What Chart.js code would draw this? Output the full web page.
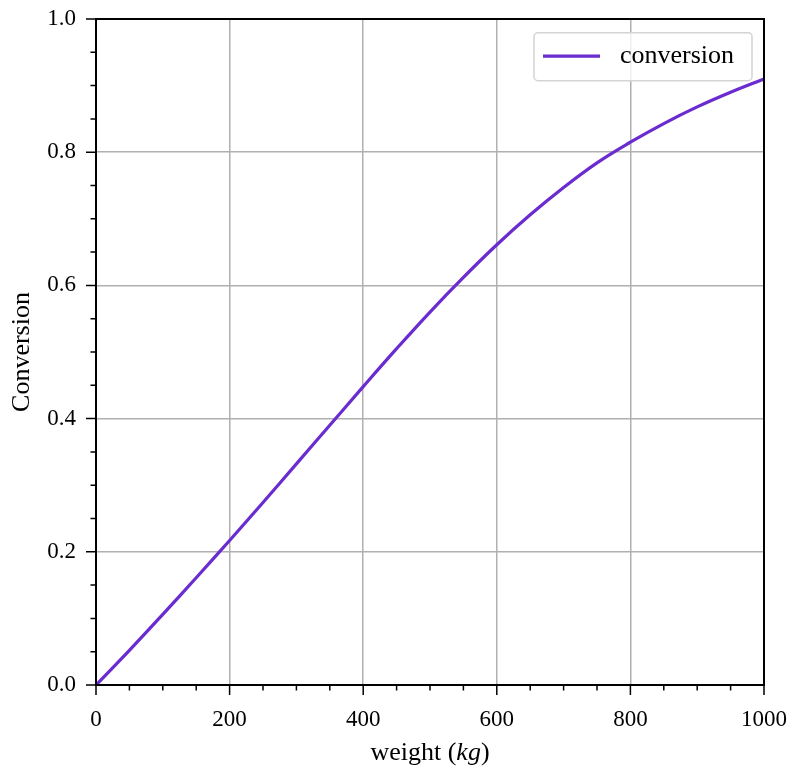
<!DOCTYPE html>
<html>
<head>
<meta charset="utf-8">
<script src="https://cdn.jsdelivr.net/npm/chart.js@4/dist/chart.umd.min.js"></script>
<style>
  html, body { margin: 0; padding: 0; background: #ffffff; }
  #wrap { width: 795px; height: 772px; position: relative; }
</style>
</head>
<body>
<div id="wrap"><canvas id="c" width="795" height="772"></canvas></div>
<script>
// ---- data ----
const weights = [0, 50, 100, 150, 200, 250, 300, 350, 400, 450, 500, 550, 600, 650, 700, 750, 800, 850, 900, 950, 1000];
const conversion = [0, 0.052, 0.106, 0.161, 0.217, 0.274, 0.332, 0.390, 0.448, 0.505, 0.560, 0.612, 0.661, 0.706, 0.747, 0.784, 0.815, 0.843, 0.868, 0.890, 0.910];
const xTickLabels = [0, 200, 400, 600, 800, 1000];
const yTickLabels = ['0.0', '0.2', '0.4', '0.6', '0.8', '1.0'];
const seriesName = 'conversion';
const xTitleParts = [['weight (', 'normal'], ['kg', 'italic'], [')', 'normal']];
const yTitle = 'Conversion';

const FONT = "'Liberation Serif', 'DejaVu Serif', serif";
const TEXT_SIZE = 26;
const TICK_SIZE = 23;
const LINE_COLOR = '#6a2bd0';

const framePlugin = {
  id: 'frameTicks',
  afterDraw(chart) {
    const ctx = chart.ctx;
    const a = chart.chartArea;
    const xs = chart.scales.x, ys = chart.scales.y;
    ctx.save();
    // ticks
    ctx.strokeStyle = '#000';
    ctx.lineWidth = 1.5;
    ctx.beginPath();
    for (let v = 0; v <= 1000; v += 50) {
      const px = xs.getPixelForValue(v);
      const len = (v % 200 === 0) ? 10 : 5.5;
      ctx.moveTo(px, a.bottom);
      ctx.lineTo(px, a.bottom + len);
    }
    for (let i = 0; i <= 20; i++) {
      const v = i * 0.05;
      const py = ys.getPixelForValue(v);
      const len = (i % 4 === 0) ? 10 : 5.5;
      ctx.moveTo(a.left, py);
      ctx.lineTo(a.left - len, py);
    }
    ctx.stroke();
    // frame
    ctx.lineWidth = 2;
    ctx.strokeRect(a.left, a.top, a.right - a.left, a.bottom - a.top);

    // legend
    const bx = a.right - 230, by = a.top + 13.7, bw = 218, bh = 48;
    ctx.beginPath();
    const r = 4;
    ctx.moveTo(bx + r, by);
    ctx.arcTo(bx + bw, by, bx + bw, by + bh, r);
    ctx.arcTo(bx + bw, by + bh, bx, by + bh, r);
    ctx.arcTo(bx, by + bh, bx, by, r);
    ctx.arcTo(bx, by, bx + bw, by, r);
    ctx.closePath();
    ctx.fillStyle = 'rgba(255,255,255,0.8)';
    ctx.fill();
    ctx.strokeStyle = '#d4d4d4';
    ctx.lineWidth = 1.5;
    ctx.stroke();
    ctx.strokeStyle = LINE_COLOR;
    ctx.lineWidth = 3.2;
    ctx.beginPath();
    ctx.moveTo(bx + 9, by + bh / 2 - 0.5);
    ctx.lineTo(bx + 66, by + bh / 2 - 0.5);
    ctx.stroke();
    ctx.fillStyle = '#000';
    ctx.font = TEXT_SIZE + 'px ' + FONT;
    ctx.textBaseline = 'middle';
    ctx.textAlign = 'left';
    ctx.fillText(seriesName, bx + 86, by + bh / 2 - 1);

    // x title with italic part
    let total = 0;
    const widths = xTitleParts.map(([t, s]) => {
      ctx.font = s + ' ' + TEXT_SIZE + 'px ' + FONT;
      const w = ctx.measureText(t).width;
      total += w;
      return w;
    });
    let x = (a.left + a.right) / 2 - total / 2;
    const y = 760;
    ctx.textBaseline = 'alphabetic';
    xTitleParts.forEach(([t, s], i) => {
      ctx.font = s + ' ' + TEXT_SIZE + 'px ' + FONT;
      ctx.fillText(t, x, y);
      x += widths[i];
    });
    ctx.restore();
  }
};

new Chart(document.getElementById('c'), {
  type: 'line',
  data: {
    labels: weights,
    datasets: [{
      label: seriesName,
      data: weights.map((w, i) => ({ x: w, y: conversion[i] })),
      borderColor: LINE_COLOR,
      borderWidth: 3.2,
      pointRadius: 0,
      fill: false,
      tension: 0.4,
      clip: false
    }]
  },
  options: {
    responsive: false,
    animation: false,
    devicePixelRatio: 1,
    layout: { padding: { top: 19, right: 31, left: 0, bottom: 0 } },
    plugins: { legend: { display: false }, tooltip: { enabled: false } },
    scales: {
      x: {
        type: 'linear',
        min: 0, max: 1000,
        afterFit(s) { s.height = 87; },
        border: { display: false },
        grid: { color: '#b0b0b0', lineWidth: 1.5, drawTicks: true, tickLength: 21, tickColor: 'rgba(0,0,0,0)' },
        ticks: {
          stepSize: 200,
          padding: 0,
          color: '#000',
          font: { family: FONT, size: TICK_SIZE },
          maxRotation: 0,
          callback: (v) => xTickLabels.includes(v) ? String(v) : ''
        }
      },
      y: {
        type: 'linear',
        min: 0, max: 1,
        afterFit(s) { s.width = 96; },
        border: { display: false },
        grid: { color: '#b0b0b0', lineWidth: 1.5, drawTicks: true, tickLength: 20, tickColor: 'rgba(0,0,0,0)' },
        title: {
          display: true, text: yTitle, color: '#000',
          font: { family: FONT, size: TEXT_SIZE },
          padding: { top: 7, bottom: 0 }
        },
        ticks: {
          stepSize: 0.2,
          padding: 0,
          color: '#000',
          font: { family: FONT, size: TICK_SIZE },
          callback: (v) => yTickLabels[Math.round(v / 0.2)]
        }
      }
    }
  },
  plugins: [framePlugin]
});
</script>
</body>
</html>
